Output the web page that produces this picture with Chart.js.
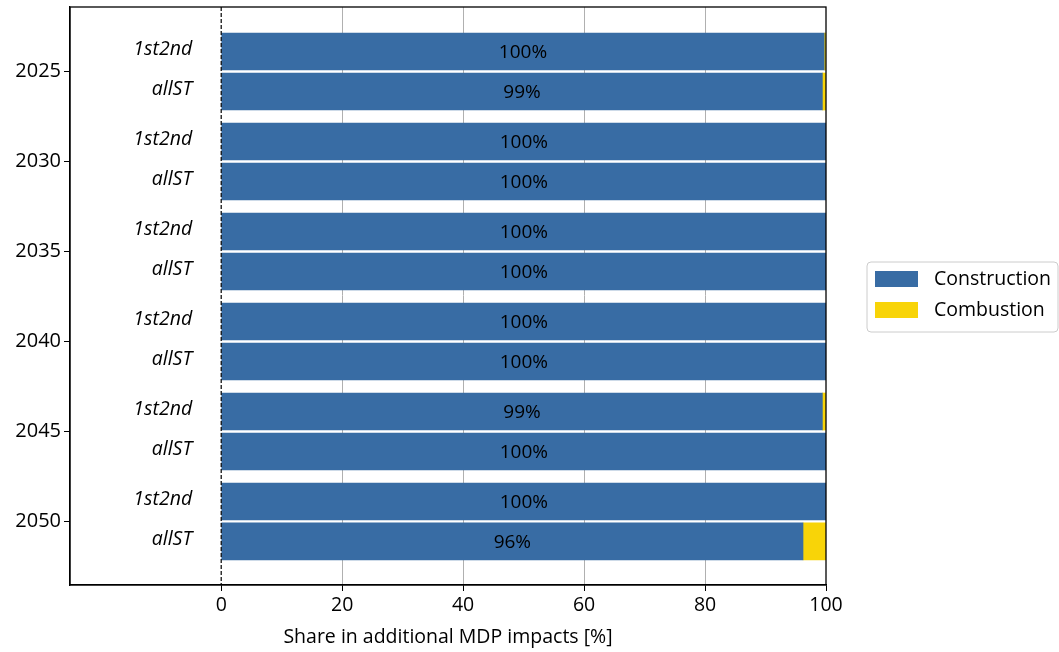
<!DOCTYPE html>
<html>
<head>
<meta charset="utf-8">
<script src="https://cdn.jsdelivr.net/npm/chart.js@4/dist/chart.umd.min.js"></script>
<style>
  html, body { margin: 0; padding: 0; background: #ffffff; }
  canvas { display: block; }
</style>
</head>
<body>
<canvas id="chart" width="1059" height="652"></canvas>
<script>
// Years and the two scenario variants shown per year
const years = ['2025', '2030', '2035', '2040', '2045', '2050'];
const variants = ['1st2nd', 'allST'];

// Share of additional MDP impacts [%] per year
const construction1st2nd = [99.7, 100, 100, 100, 99.4, 100];
const combustion1st2nd   = [0.3, 0, 0, 0, 0.6, 0];
const constructionAllST  = [99.4, 100, 100, 100, 100, 96.2];
const combustionAllST    = [0.6, 0, 0, 0, 0, 3.8];

const xTicks = [0, 20, 40, 60, 80, 100];

const BLUE = '#386ca4';
const YELLOW = '#f8d408';
const FONT = "'Open Sans', 'Noto Sans', sans-serif";

// Each year sits on an integer slot; its two variants are offset above/below.
const OFFSET = 0.222;
function toPoints(first, second) {
  const pts = [];
  years.forEach((_, i) => {
    pts.push({ y: i - OFFSET, x: first[i], variant: variants[0] });
    pts.push({ y: i + OFFSET, x: second[i], variant: variants[1] });
  });
  return pts;
}

const constructionPoints = toPoints(construction1st2nd, constructionAllST);
const combustionPoints = toPoints(combustion1st2nd, combustionAllST);

// Frame, zero line, value labels, variant labels and legend
const decorations = {
  id: 'decorations',
  afterDatasetsDraw(chart) {
    const { ctx, chartArea: a, scales } = chart;
    const xs = scales.x, ys = scales.y;
    ctx.save();

    // dashed line at x = 0
    const x0 = xs.getPixelForValue(0);
    ctx.strokeStyle = '#000';
    ctx.lineWidth = 1.2;
    ctx.setLineDash([4, 2]);
    ctx.beginPath();
    ctx.moveTo(x0, a.top);
    ctx.lineTo(x0, a.bottom);
    ctx.stroke();
    ctx.setLineDash([]);

    // value labels centred on the construction segment
    const meta = chart.getDatasetMeta(0);
    ctx.fillStyle = '#000';
    ctx.font = `19px ${FONT}`;
    ctx.textAlign = 'center';
    ctx.textBaseline = 'middle';
    meta.data.forEach((el, idx) => {
      const v = constructionPoints[idx].x;
      const cx = (el.x + el.base) / 2;
      ctx.fillText(Math.round(v) + '%', cx, el.y + 1);
    });

    // variant labels to the left of the zero line
    ctx.font = `italic 19.5px ${FONT}`;
    ctx.textAlign = 'right';
    const lx = xs.getPixelForValue(-4.8);
    constructionPoints.forEach(p => {
      ctx.fillText(p.variant, lx, ys.getPixelForValue(p.y) - 2);
    });

    // plot frame
    ctx.strokeStyle = '#000';
    ctx.lineWidth = 1.3;
    ctx.strokeRect(a.left, a.top, a.right - a.left, a.bottom - a.top);

    // legend
    const lgX = 867, lgY = 262, lgW = 191, lgH = 70, r = 4;
    ctx.beginPath();
    ctx.moveTo(lgX + r, lgY);
    ctx.arcTo(lgX + lgW, lgY, lgX + lgW, lgY + lgH, r);
    ctx.arcTo(lgX + lgW, lgY + lgH, lgX, lgY + lgH, r);
    ctx.arcTo(lgX, lgY + lgH, lgX, lgY, r);
    ctx.arcTo(lgX, lgY, lgX + lgW, lgY, r);
    ctx.closePath();
    ctx.fillStyle = 'rgba(255,255,255,0.8)';
    ctx.fill();
    ctx.strokeStyle = '#cccccc';
    ctx.lineWidth = 1;
    ctx.stroke();

    ctx.font = `19.5px ${FONT}`;
    ctx.textAlign = 'left';
    ctx.textBaseline = 'middle';
    chart.data.datasets.forEach((ds, i) => {
      const ry = 271 + i * 31;
      ctx.fillStyle = ds.backgroundColor;
      ctx.fillRect(875, ry, 43, 16);
      ctx.fillStyle = '#000';
      ctx.fillText(ds.label, 934, ry + 8);
    });

    ctx.restore();
  }
};

new Chart(document.getElementById('chart'), {
  type: 'bar',
  data: {
    datasets: [
      { label: 'Construction', data: constructionPoints, backgroundColor: BLUE, barThickness: 37 },
      { label: 'Combustion', data: combustionPoints, backgroundColor: YELLOW, barThickness: 37 }
    ]
  },
  options: {
    indexAxis: 'y',
    responsive: false,
    animation: false,
    layout: { padding: { top: 7, right: 233, left: 0, bottom: 0 } },
    plugins: { legend: { display: false }, tooltip: { enabled: false } },
    scales: {
      x: {
        type: 'linear',
        min: -25,
        max: 100,
        stacked: true,
        afterBuildTicks: s => { s.ticks = xTicks.map(v => ({ value: v })); },
        grid: {
          color: c => (c.tick && (c.tick.value === 0 || c.tick.value === 100)) ? 'rgba(0,0,0,0)' : '#b0b0b0',
          lineWidth: 1,
          tickLength: 6,
          tickColor: '#000'
        },
        border: { color: '#000', width: 1.3 },
        ticks: { color: '#000', font: { size: 19.5, family: FONT }, maxRotation: 0, padding: 3 },
        title: {
          display: true,
          text: 'Share in additional MDP impacts [%]',
          color: '#000',
          font: { size: 19.5, family: FONT },
          padding: { top: 0, bottom: 3 }
        },
        afterFit: s => { s.height = 67; s.paddingLeft = 0; s.paddingRight = 0; }
      },
      y: {
        type: 'linear',
        min: -0.717,
        max: 5.706,
        reverse: true,
        stacked: true,
        offset: false,
        afterBuildTicks: s => { s.ticks = years.map((_, i) => ({ value: i })); },
        grid: { drawOnChartArea: false, offset: false, tickLength: 6, tickColor: '#000' },
        border: { color: '#000', width: 1.3 },
        ticks: {
          color: '#000',
          font: { size: 20, family: FONT },
          padding: 3,
          callback: v => years[v]
        },
        afterFit: s => { s.width = 70; s.paddingTop = 0; s.paddingBottom = 0; }
      }
    }
  },
  plugins: [decorations]
});
</script>
</body>
</html>
